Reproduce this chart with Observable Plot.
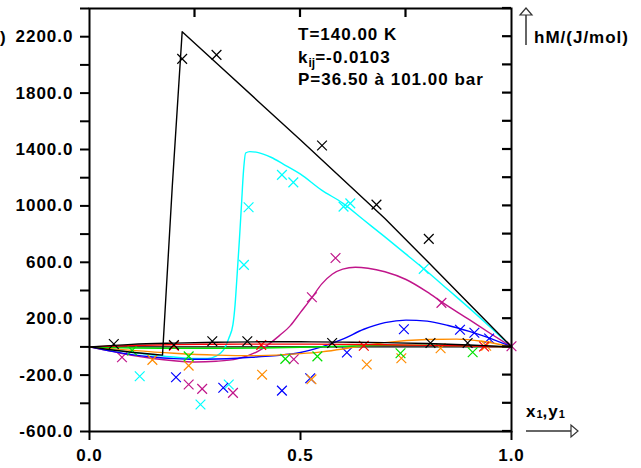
<!DOCTYPE html>
<html><head><meta charset="utf-8">
<script src="https://cdn.jsdelivr.net/npm/d3@7"></script>
<script src="https://cdn.jsdelivr.net/npm/@observablehq/plot@0.6"></script>
<style>
body{margin:0;background:#fff;}
#chart{position:relative;width:641px;height:468px;}
</style></head><body><div id="chart"></div>
<script>
// ---- data (x1,y1 ; hM in J/mol) ----
const blackLineX = [0, 0.05, 0.1, 0.15, 0.173, 0.196, 0.2196, 0.3, 0.4, 0.5, 0.6, 0.7, 0.8, 0.9, 1];
const blackLineY = [0, -20, -38, -52, -58, 1130, 2235, 2015, 1741, 1468, 1189, 910, 609, 305, 0];
const blackMarkX = [0.2196, 0.301, 0.551, 0.68, 0.804];
const blackMarkY = [2043, 2071, 1428, 1009, 766];

const cyanLineX = [0, 0.05, 0.1, 0.15, 0.2, 0.25, 0.28, 0.3, 0.31, 0.32, 0.33, 0.34, 0.345, 0.35, 0.355, 0.36, 0.365, 0.37, 0.38, 0.4, 0.43, 0.46, 0.5, 0.55, 0.6, 0.65, 0.7, 0.75, 0.8, 0.85, 0.9, 0.95, 1];
const cyanLineY = [0, -20, -40, -57, -72, -82, -82, -65, -45, -10, 60, 160, 300, 520, 750, 1000, 1250, 1375, 1385, 1378, 1345, 1295, 1225, 1112, 1020, 900, 780, 658, 535, 405, 275, 140, 0];
const cyanMarkX = [0.119, 0.263, 0.33, 0.366, 0.377, 0.456, 0.483, 0.602, 0.618, 0.792];
const cyanMarkY = [-208, -409, -267, 582, 990, 1220, 1167, 995, 1018, 553];

const magentaLineX = [0, 0.05, 0.1, 0.15, 0.2, 0.25, 0.3, 0.35, 0.4, 0.45, 0.476, 0.5, 0.527, 0.55, 0.575, 0.6, 0.63, 0.66, 0.7, 0.75, 0.8, 0.836, 0.9, 0.95, 1];
const magentaLineY = [0, -30, -60, -82, -98, -107, -102, -85, -30, 80, 151, 245, 350, 445, 515, 552, 565, 558, 533, 478, 390, 316, 193, 95, 0];
const magentaMarkX = [0.077, 0.235, 0.267, 0.34, 0.484, 0.527, 0.583, 0.834, 1.0];
const magentaMarkY = [-73, -267, -298, -326, -88, 352, 630, 312, 5];

const blueLineX = [0, 0.05, 0.1, 0.15, 0.2, 0.25, 0.3, 0.35, 0.4, 0.45, 0.5, 0.55, 0.6, 0.65, 0.7, 0.75, 0.8, 0.85, 0.9, 0.95, 1];
const blueLineY = [0, -30, -55, -72, -83, -88, -86, -80, -70, -60, -40, 0, 55, 125, 172, 190, 183, 152, 110, 60, 0];
const blueMarkX = [0.205, 0.317, 0.456, 0.523, 0.61, 0.745, 0.878, 0.912, 0.947];
const blueMarkY = [-215, -290, -310, -222, -40, 125, 122, 100, 60];

const orangeLineX = [0, 0.1, 0.2, 0.3, 0.4, 0.5, 0.55, 0.6, 0.65, 0.7, 0.8, 0.87, 0.93, 1];
const orangeLineY = [0, -25, -45, -58, -62, -48, -35, -15, 10, 30, 52, 55, 40, 0];
const orangeMarkX = [0.149, 0.235, 0.409, 0.526, 0.657, 0.739, 0.832, 0.94];
const orangeMarkY = [-92, -133, -197, -230, -125, -80, -10, 8];

const greenLineX = [0, 0.1, 0.2, 0.3, 0.4, 0.5, 0.6, 0.7, 0.8, 0.9, 1];
const greenLineY = [0, -8, -10, -10, -8, -3, 5, 11, 12, 8, 0];
const greenMarkX = [0.101, 0.235, 0.464, 0.54, 0.737, 0.908];
const greenMarkY = [-26, -67, -85, -67, -45, -38];

const redLineX = [0, 0.1, 0.2, 0.3, 0.4, 0.5, 0.6, 0.7, 0.8, 0.9, 1];
const redLineY = [0, 10, 16, 19, 20, 20, 18, 15, 11, 6, 0];
const redMarkX = [0.2, 0.407, 0.65, 0.935];
const redMarkY = [8, 14, 8, 3];

const black2LineX = [0, 0.1, 0.2, 0.3, 0.4, 0.5, 0.6, 0.7, 0.8, 0.9, 1];
const black2LineY = [0, 18, 27, 33, 36, 36, 34, 30, 24, 14, 0];
const black2MarkX = [0.0576, 0.2, 0.291, 0.374, 0.575, 0.808, 0.896];
const black2MarkY = [21, 14, 40, 40, 28, 28, 28];

const yTicks = d3.range(-600, 2401, 200);
const xTickLabels = [0, 0.5, 1];
const xTopTicks = [0.25, 0.5, 0.75];
const annotationLines = ["T=140.00 K", "k", "ij", "=-0.0103", "P=36.50 à 101.00 bar"];
const yLabel = "hM/(J/mol)";

// ---- build ----
const series = [
  {c: "#00ffff", lx: cyanLineX, ly: cyanLineY, mx: cyanMarkX, my: cyanMarkY, curve: "monotone-x"},
  {c: "#c0158a", lx: magentaLineX, ly: magentaLineY, mx: magentaMarkX, my: magentaMarkY, curve: "monotone-x"},
  {c: "#0000ff", lx: blueLineX, ly: blueLineY, mx: blueMarkX, my: blueMarkY, curve: "monotone-x"},
  {c: "#ff8c00", lx: orangeLineX, ly: orangeLineY, mx: orangeMarkX, my: orangeMarkY, curve: "monotone-x"},
  {c: "#00e000", lx: greenLineX, ly: greenLineY, mx: greenMarkX, my: greenMarkY, curve: "monotone-x"},
  {c: "#ff0000", lx: redLineX, ly: redLineY, mx: redMarkX, my: redMarkY, curve: "monotone-x"},
  {c: "#000000", lx: black2LineX, ly: black2LineY, mx: black2MarkX, my: black2MarkY, curve: "monotone-x"},
  {c: "#000000", lx: blackLineX, ly: blackLineY, mx: blackMarkX, my: blackMarkY, curve: "linear"}
];
const dataMarks = [];
for (const s of series) {
  const pts = s.lx.map((x, i) => ({x, y: s.ly[i]}));
  const mks = s.mx.map((x, i) => ({x, y: s.my[i]}));
  dataMarks.push(Plot.line(pts, {x: "x", y: "y", stroke: s.c, strokeWidth: 1.4, curve: s.curve}));
  dataMarks.push(Plot.dot(mks, {x: "x", y: "y", symbol: "times", r: 4.5, stroke: s.c, strokeWidth: 1.2}));
}

const W = 641, H = 468, ML = 89, MR = 130, MT = 8, MB = 37, TICK = 9;
const xDom = [0, 1], yDom = [-600, 2400];
const font = "'Liberation Sans', Arial, Helvetica, sans-serif";
const chart = Plot.plot({
  width: W, height: H,
  marginLeft: ML, marginRight: MR, marginTop: MT, marginBottom: MB,
  x: {domain: xDom},
  y: {domain: yDom},
  style: {fontFamily: font, fontSize: "17px", fontWeight: "bold", color: "#000", background: "#fff", letterSpacing: "1px"},
  marks: [
    Plot.ruleY([0], {stroke: "#000", strokeWidth: 1.2}),
    ...dataMarks,
    Plot.axisY(yTicks, {tickSize: 9, tickPadding: 7, strokeWidth: 2, label: null, fontWeight: "bold",
      tickFormat: d => ((d + 600) % 400 === 0 ? d.toFixed(1) : "")}),
    Plot.axisX(xTickLabels, {tickSize: 9, tickPadding: 8, strokeWidth: 2, label: null, fontWeight: "bold", tickFormat: d => d.toFixed(1)}),
    Plot.frame({stroke: "#000", strokeWidth: 2})
  ]
});
document.getElementById("chart").appendChild(chart);

const svg = d3.select(chart);
const sx = chart.scale("x"), sy = chart.scale("y");

// inward ticks on the right and top edges, placed with the plot's own scales
const tk = svg.append("g").attr("stroke", "#000").attr("stroke-width", 2.2).attr("fill", "none");
const xRight = sx.apply(xDom[1]), yTop = sy.apply(yDom[1]);
for (const t of yTicks) {
  const y = sy.apply(t);
  tk.append("path").attr("d", `M${xRight - TICK},${y}H${xRight}`);
}
for (const t of xTopTicks) {
  const x = sx.apply(t);
  tk.append("path").attr("d", `M${x},${yTop}V${yTop + TICK}`);
}

// ---- annotations ----
const g = svg.append("g").attr("font-family", font).attr("font-size", 17).attr("text-anchor", "start")
  .attr("font-weight", "bold").attr("letter-spacing", "1px").attr("fill", "#000");
g.append("text").attr("x", 298).attr("y", 40).text(annotationLines[0]);
const k = g.append("text").attr("x", 298).attr("y", 62.5);
k.append("tspan").text(annotationLines[1]);
k.append("tspan").attr("font-size", 12).attr("letter-spacing", "0px").attr("dy", 4).text(annotationLines[2]);
k.append("tspan").attr("dy", -4).text(annotationLines[3]);
g.append("text").attr("x", 298).attr("y", 85).text(annotationLines[4]);

// y label (right) with arrow
g.append("text").attr("x", 534).attr("y", 43).text(yLabel);
g.append("text").attr("x", 0).attr("y", 43).text(yLabel.slice(-1));
g.append("line").attr("x1", 526).attr("x2", 526).attr("y1", 15).attr("y2", 45).attr("stroke", "#333").attr("stroke-width", 1.5);
g.append("path").attr("d", "M520,15L532,15L526,8Z").attr("fill", "#fff").attr("stroke", "#333").attr("stroke-width", 1.2);

// x label with arrow
const xl = g.append("text").attr("x", 526).attr("y", 417);
xl.append("tspan").text("x");
xl.append("tspan").attr("font-size", 11).attr("letter-spacing", "0px").attr("dy", 1).text("1");
xl.append("tspan").attr("dy", -1).text(",y");
xl.append("tspan").attr("font-size", 11).attr("letter-spacing", "0px").attr("dy", 1).text("1");
g.append("line").attr("x1", 526).attr("x2", 571).attr("y1", 431).attr("y2", 431).attr("stroke", "#333").attr("stroke-width", 1.5);
g.append("path").attr("d", "M571,425L571,437L578,431Z").attr("fill", "#fff").attr("stroke", "#333").attr("stroke-width", 1.2);
</script></body></html>
